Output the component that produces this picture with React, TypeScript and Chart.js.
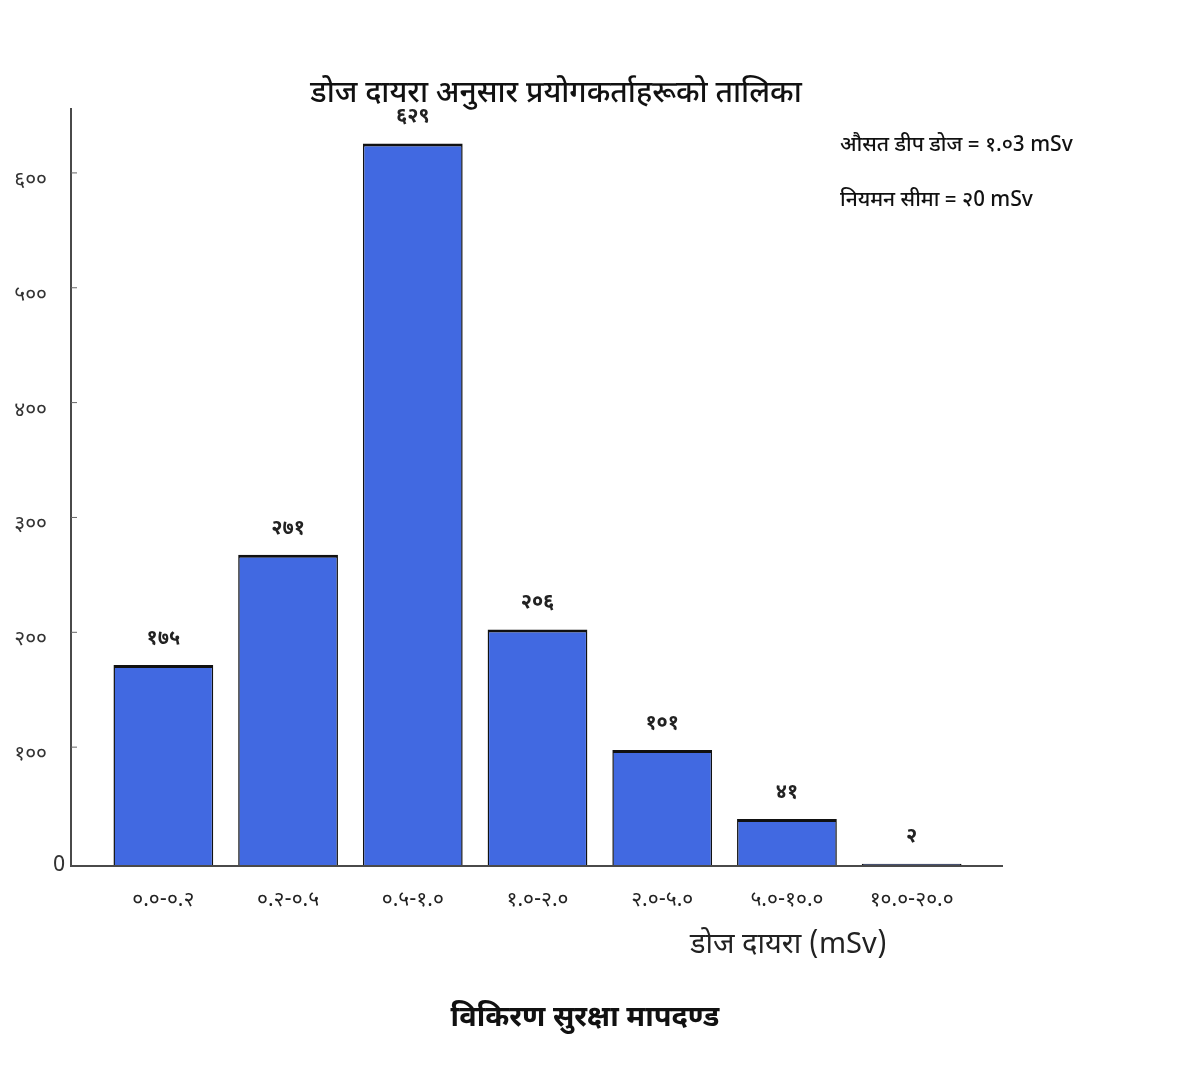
import React, { useEffect, useRef } from "react";
import { Chart, registerables } from "chart.js";

Chart.register(...registerables);

const categories = ["०.०-०.२", "०.२-०.५", "०.५-१.०", "१.०-२.०", "२.०-५.०", "५.०-१०.०", "१०.०-२०.०"];
const userCounts = [175, 271, 629, 206, 101, 41, 2];
const yTickValues = [0, 100, 200, 300, 400, 500, 600];
const chartTitle = "डोज दायरा अनुसार प्रयोगकर्ताहरूको तालिका";
const xAxisTitle = "डोज दायरा (mSv)";
const footerTitle = "विकिरण सुरक्षा मापदण्ड";
const noteLines = ["औसत डीप डोज = १.०3 mSv", "नियमन सीमा = २0 mSv"];

const FONT = "'Noto Sans Devanagari', 'Noto Sans', 'DejaVu Sans', sans-serif";
const devDigits = "०१२३४५६७८९";
const toDev = (n: number | string) =>
  String(n).replace(/[0-9]/g, (d) => devDigits[Number(d)]);

const decorPlugin = {
  id: "decor",
  afterDatasetsDraw(chart: any) {
    const ctx = chart.ctx;
    const { left, right, top, bottom } = chart.chartArea;
    const y = chart.scales.y;
    const axisX = left - 30;
    const axisRight = right + 29;
    ctx.save();
    // axes lines
    ctx.strokeStyle = "#4a4a4a";
    ctx.lineWidth = 2;
    ctx.beginPath();
    ctx.moveTo(axisX, top);
    ctx.lineTo(axisX, bottom);
    ctx.lineTo(axisRight, bottom);
    ctx.stroke();
    // tick marks
    ctx.lineWidth = 1;
    ctx.strokeStyle = "#666";
    yTickValues.forEach((v) => {
      if (v === 0) return;
      const py = y.getPixelForValue(v) - 4;
      ctx.beginPath();
      ctx.moveTo(axisX, py);
      ctx.lineTo(axisX + 6, py);
      ctx.stroke();
    });
    // zero label
    ctx.fillStyle = "#333";
    ctx.font = `22px ${FONT}`;
    ctx.textAlign = "right";
    ctx.textBaseline = "middle";
    ctx.fillText("0", axisX - 6, y.getPixelForValue(0) + 1);
    // value labels
    const meta = chart.getDatasetMeta(0);
    ctx.font = `bold 20px ${FONT}`;
    ctx.textAlign = "center";
    ctx.textBaseline = "middle";
    ctx.fillStyle = "#222";
    meta.data.forEach((el: any, i: number) => {
      ctx.fillText(toDev(userCounts[i]), el.x, el.y - 25);
    });
    // title
    ctx.font = `500 30px ${FONT}`;
    ctx.fillStyle = "#111";
    ctx.fillText(chartTitle, 556, 96);
    // notes
    ctx.font = `500 21px ${FONT}`;
    ctx.textAlign = "left";
    noteLines.forEach((t, i) => ctx.fillText(t, 840, 147 + i * 55));
    // x axis title
    ctx.font = `29px ${FONT}`;
    ctx.fillStyle = "#222";
    ctx.fillText(xAxisTitle, 690, 948);
    // footer
    ctx.font = `bold 29px ${FONT}`;
    ctx.textAlign = "center";
    ctx.fillStyle = "#111";
    ctx.fillText(footerTitle, 585, 1021);
    ctx.restore();
  },
};

export default function App() {
  const ref = useRef<HTMLCanvasElement>(null);
  useEffect(() => {
    if (!ref.current) return;
    const chart = new Chart(ref.current, {
      type: "bar",
      data: {
        labels: categories,
        datasets: [
          {
            data: userCounts,
            backgroundColor: "#4169E1",
            borderColor: "#111",
            borderWidth: { top: 3, left: 1.5, right: 1.5, bottom: 0 },
            borderSkipped: false,
            barPercentage: 0.8,
            categoryPercentage: 1,
          },
        ],
      },
      options: {
        responsive: false,
        animation: false,
        devicePixelRatio: 1,
        layout: { padding: { left: 0, right: 226, top: 108, bottom: 0 } },
        plugins: { legend: { display: false }, tooltip: { enabled: false }, title: { display: false } },
        scales: {
          x: {
            grid: { display: false, drawTicks: false },
            border: { display: false },
            ticks: { color: "#222", font: { size: 21, family: FONT }, padding: 23, maxRotation: 0, autoSkip: false },
            afterFit: (s: any) => {
              s.height = 220;
            },
          },
          y: {
            min: 0,
            max: 660,
            grid: { display: false, drawTicks: false },
            border: { display: false },
            afterBuildTicks: (s: any) => {
              s.ticks = yTickValues.map((v) => ({ value: v }));
            },
            ticks: {
              color: "#333",
              font: { size: 21, family: FONT },
              padding: 54,
              labelOffset: 5,
              callback: (v: any) => (Number(v) === 0 ? "" : toDev(v)),
            },
            afterFit: (s: any) => {
              s.width = 101;
            },
          },
        },
      },
      plugins: [decorPlugin],
    });
    return () => chart.destroy();
  }, []);
  return (
    <div style={{ position: "fixed", left: 0, top: 0, width: 1200, height: 1086, background: "#fff" }}>
      <canvas ref={ref} width={1200} height={1086} style={{ width: 1200, height: 1086 }} />
    </div>
  );
}
